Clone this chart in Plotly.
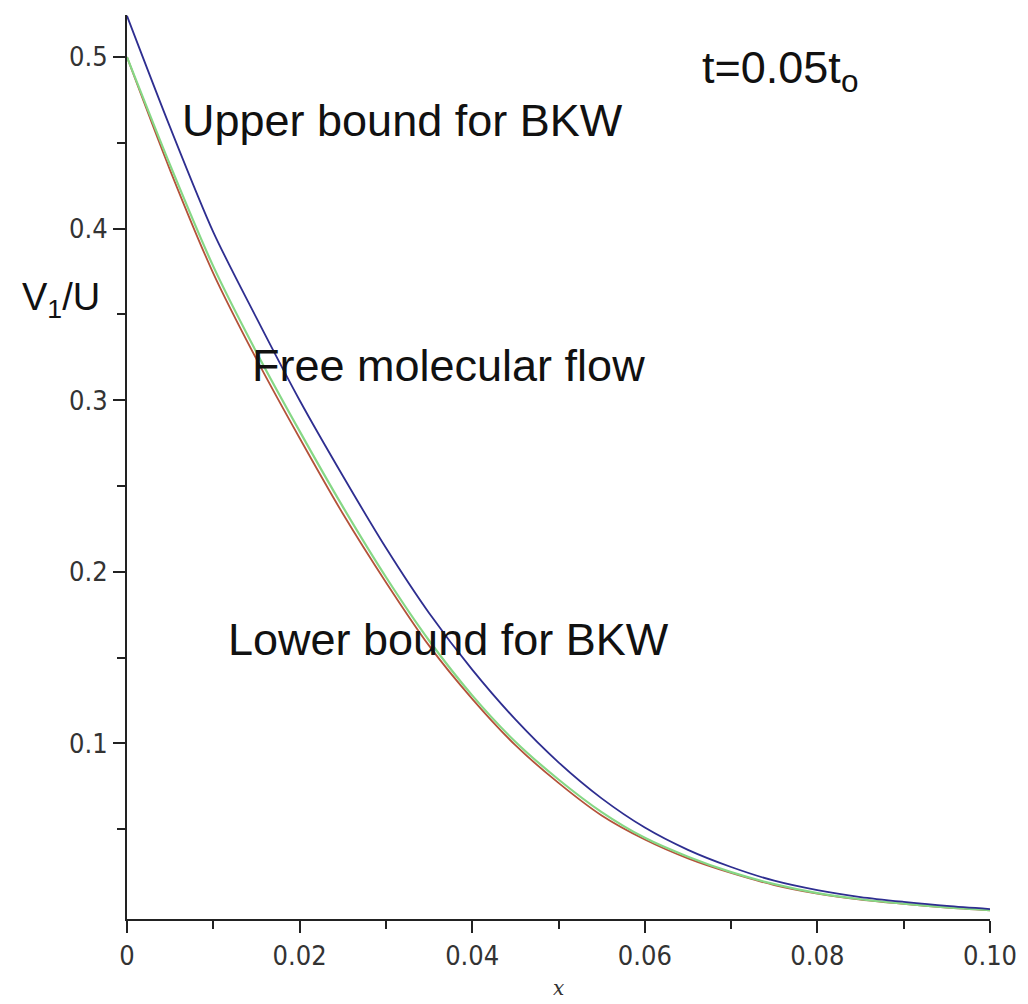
import plotly.graph_objects as go

# x positions (shared by all curves)
x_vals = [0.000, 0.005, 0.010, 0.015, 0.020, 0.025, 0.030, 0.035, 0.040, 0.045, 0.050,
          0.055, 0.060, 0.065, 0.070, 0.075, 0.080, 0.085, 0.090, 0.095, 0.100]

# Upper bound for BKW (blue)
upper_bkw = [0.524, 0.459, 0.398, 0.348, 0.300, 0.256, 0.214, 0.176, 0.143, 0.114, 0.089,
             0.068, 0.051, 0.038, 0.028, 0.020, 0.0145, 0.0105, 0.0077, 0.0053, 0.0035]

# Free molecular flow (green)
free_mol = [0.500, 0.437, 0.378, 0.328, 0.282, 0.238, 0.197, 0.160, 0.128, 0.101, 0.079,
            0.060, 0.045, 0.034, 0.025, 0.018, 0.0128, 0.0092, 0.0066, 0.0045, 0.0029]

# Lower bound for BKW (red)
lower_bkw = [0.500, 0.434, 0.374, 0.324, 0.278, 0.234, 0.194, 0.157, 0.126, 0.099, 0.077,
             0.058, 0.044, 0.033, 0.0245, 0.0175, 0.0125, 0.009, 0.0065, 0.0044, 0.0028]

x_ticks = [0, 0.02, 0.04, 0.06, 0.08, 0.10]
x_tick_text = ["0", "0.02", "0.04", "0.06", "0.08", "0.10"]
x_minor = [0.01, 0.03, 0.05, 0.07, 0.09]
y_ticks = [0.1, 0.2, 0.3, 0.4, 0.5]
y_tick_text = ["0.1", "0.2", "0.3", "0.4", "0.5"]
y_minor = [0.05, 0.15, 0.25, 0.35, 0.45]

fig = go.Figure()
fig.add_trace(go.Scatter(x=x_vals, y=lower_bkw, mode="lines", name="Lower bound for BKW",
                         line=dict(color="#b4523a", width=1.8, shape="spline", smoothing=0.8)))
fig.add_trace(go.Scatter(x=x_vals, y=free_mol, mode="lines", name="Free molecular flow",
                         line=dict(color="#86d886", width=2.2, shape="spline", smoothing=0.8)))
fig.add_trace(go.Scatter(x=x_vals, y=upper_bkw, mode="lines", name="Upper bound for BKW",
                         line=dict(color="#2e2e90", width=1.8, shape="spline", smoothing=0.8)))

tick_font = dict(family="Liberation Sans Narrow, DejaVu Sans Condensed, Arial", size=27, color="#333333")
label_font = dict(family="Liberation Sans, Arial", size=45, color="#111111")

plot_w = 1028 - 127 - 38
plot_h = 1004 - 15 - 85

fig.update_layout(
    width=1028, height=1004,
    margin=dict(l=127, r=38, t=15, b=85),
    paper_bgcolor="white", plot_bgcolor="white",
    showlegend=False,
    xaxis=dict(
        range=[0, 0.1], showgrid=False, zeroline=False, automargin=False,
        showline=True, linecolor="#222222", linewidth=2,
        tickmode="array", tickvals=x_ticks, ticktext=x_tick_text,
        ticks="outside", ticklen=12, tickwidth=2, tickcolor="#222222",
        tickfont=tick_font,
        minor=dict(tickmode="array", tickvals=x_minor, ticks="outside", ticklen=8,
                   tickwidth=2, tickcolor="#222222", showgrid=False),
    ),
    yaxis=dict(
        range=[-0.0023, 0.5245], showgrid=False, zeroline=False, automargin=False,
        showline=True, linecolor="#222222", linewidth=2,
        tickmode="array", tickvals=y_ticks, ticktext=y_tick_text,
        ticks="outside", ticklen=12, tickwidth=2, tickcolor="#222222",
        tickfont=tick_font,
        minor=dict(tickmode="array", tickvals=y_minor, ticks="outside", ticklen=8,
                   tickwidth=2, tickcolor="#222222", showgrid=False),
    ),
    annotations=[
        dict(x=0.00614, y=0.4633, xref="x", yref="y", text="Upper bound for BKW",
             showarrow=False, xanchor="left", yanchor="middle", font=label_font),
        dict(x=0.01425, y=0.3205, xref="x", yref="y", text="Free molecular flow",
             showarrow=False, xanchor="left", yanchor="middle", font=label_font),
        dict(x=0.01147, y=0.1603, xref="x", yref="y", text="Lower bound for BKW",
             showarrow=False, xanchor="left", yanchor="middle", font=label_font),
        dict(x=0.0664, y=0.4924, xref="x", yref="y", text="t=0.05t<sub>o</sub>",
             showarrow=False, xanchor="left", yanchor="middle", font=label_font),
        dict(x=(20 - 127) / plot_w, y=(1004 - 85 - 326) / plot_h, xref="paper", yref="paper",
             text="V<sub>1</sub>/U", showarrow=False, xanchor="left", yanchor="bottom",
             font=dict(family="Liberation Sans, Arial", size=38, color="#111111")),
        # x-axis title, placed just below the tick labels
        dict(x=0.5, y=-(988 - 919) / plot_h, xref="paper", yref="paper",
             text="<i>x</i>", showarrow=False, xanchor="center", yanchor="middle",
             font=dict(family="DejaVu Serif, Liberation Serif", size=20, color="#333333")),
    ],
)

fig.write_html("out.html")
